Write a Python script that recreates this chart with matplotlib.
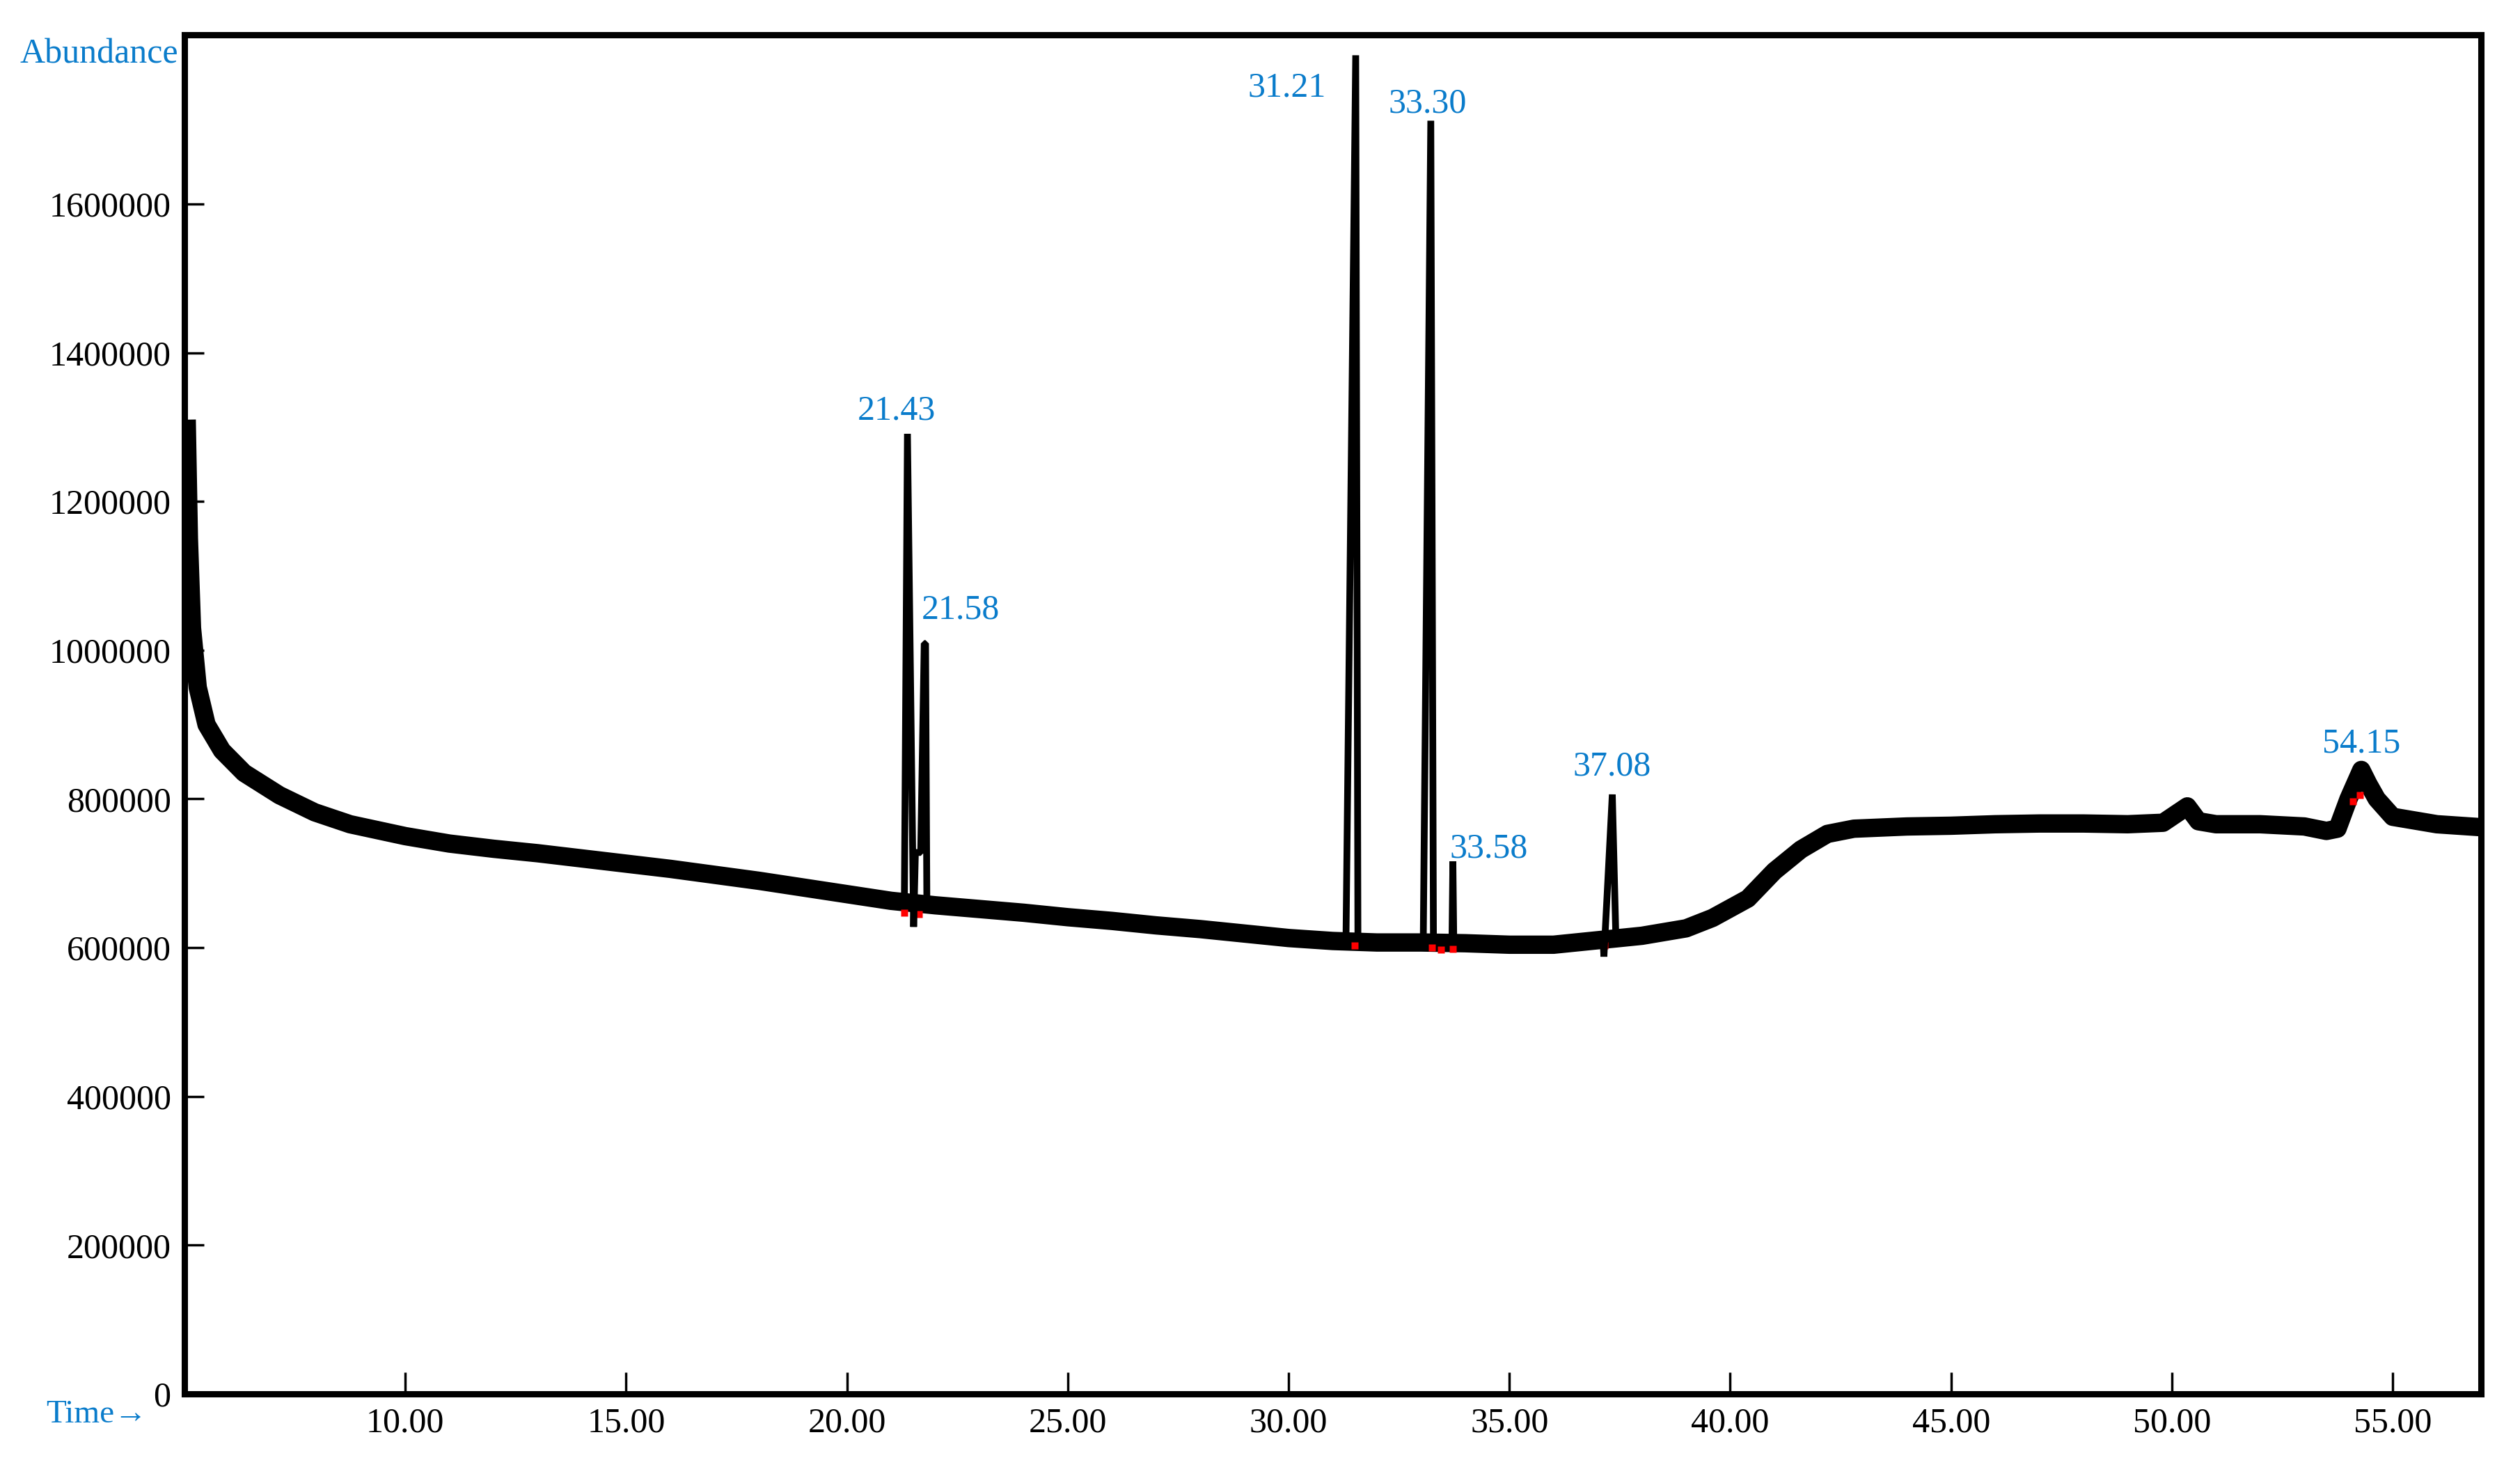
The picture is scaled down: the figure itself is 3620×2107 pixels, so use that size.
import numpy as np
import matplotlib.pyplot as plt

# ---- data ----
baseline_t = [5.05, 5.10, 5.17, 5.30, 5.50, 5.85, 6.35, 7.15, 7.95, 8.75,
              10.0, 11.0, 12.0, 13.0, 14.0, 15.0, 16.0, 17.0, 18.0, 19.0,
              20.0, 21.0, 22.0, 23.0, 24.0, 25.0, 26.0, 27.0, 28.0, 29.0,
              30.0, 31.0, 32.0, 33.0, 34.0, 35.0, 36.0, 37.0, 38.0, 39.0,
              39.6, 40.4, 41.0, 41.6, 42.2, 42.8, 44.0, 45.0, 46.0, 47.0,
              48.0, 49.0, 49.8, 50.35, 50.6, 51.0, 52.0, 53.0, 53.5, 53.75,
              54.0, 54.29, 54.45, 54.64, 55.0, 56.0, 57.0]
baseline_y = [1310000, 1150000, 1030000, 950000, 900000, 865000, 835000, 805000, 782000, 766000,
              750000, 740000, 733000, 727000, 720000, 713000, 706000, 698000, 690000, 681000,
              672000, 663000, 657000, 652000, 647000, 641000, 636000, 630000, 625000, 619000,
              613000, 609000, 607000, 607000, 606000, 604000, 604000, 610000, 616000, 626000,
              640000, 666000, 703000, 732000, 753000, 760000, 763000, 764000, 766000, 767000,
              767000, 766000, 768000, 790000, 770000, 766000, 766000, 763000, 757000, 760000,
              800000, 839000, 820000, 800000, 776000, 766000, 762000]

# sharp peaks (time, abundance) polylines
peak_t = [[21.30, 21.37, 21.51, 21.55, 21.67, 21.75, 21.78, 21.81],
          [31.30, 31.52, 31.57],
          [33.05, 33.22, 33.28],
          [33.70, 33.72, 33.74],
          [37.12, 37.14, 37.33, 37.41]]
peak_y = [[660000, 1291000, 628000, 728000, 728000, 1009000, 1009000, 656000],
          [612000, 1800000, 612000],
          [610000, 1712000, 610000],
          [610000, 716000, 610000],
          [612000, 588000, 806000, 615000]]

# integration marks (red)
mark_t = [21.30, 21.63, 31.50, 33.25, 33.45, 33.72, 37.15, 54.10, 54.25]
mark_y = [647000, 645000, 603000, 600000, 597000, 598000, 603000, 797000, 805000]

# retention time labels
label_text = ['21.43', '21.58', '31.21', '33.30', '33.58', '37.08', '54.15']
label_t = [21.12, 22.57, 29.97, 33.14, 34.54, 37.33, 54.29]
label_y = [1322000, 1054000, 1756000, 1735000, 733000, 843000, 874000]

x_ticks = [10, 15, 20, 25, 30, 35, 40, 45, 50, 55]
y_ticks = [0, 200000, 400000, 600000, 800000, 1000000, 1200000, 1400000, 1600000]

BLUE = '#0a7ccb'
SERIF = ['Liberation Serif', 'DejaVu Serif']
plt.rcParams['font.family'] = SERIF

W, H = 3620, 2107
fig = plt.figure(figsize=(W / 100, H / 100), dpi=100)
left, right, bottom, top = 265, 3564, 2002, 50
ax = fig.add_axes([left / W, 1 - bottom / H, (right - left) / W, (bottom - top) / H])

# baseline band
ax.plot(baseline_t, baseline_y, color='black', lw=19,
        solid_joinstyle='round', solid_capstyle='butt', zorder=2)
# integration marks
ax.plot(mark_t, mark_y, 's', color='red', ms=7, mec='none', zorder=3)
# peaks
for pt, py in zip(peak_t, peak_y):
    ax.plot(pt, py, color='black', lw=7, solid_joinstyle='bevel',
            solid_capstyle='butt', zorder=4)

for txt, tx, ty in zip(label_text, label_t, label_y):
    ax.text(tx, ty, txt, color=BLUE, fontsize=36, ha='center', va='center',
            family=SERIF, zorder=5)

ax.set_xlim(5.0, 57.0)
ax.set_ylim(0, 1827500)
ax.set_xticks(x_ticks)
ax.set_xticklabels([f'{v:.2f}' for v in x_ticks])
ax.set_yticks(y_ticks)
ax.set_yticklabels([str(v) for v in y_ticks])
ax.tick_params(axis='both', direction='in', width=2.5, labelsize=36,
               colors='black')
ax.tick_params(axis='x', length=22, pad=14)
ax.tick_params(axis='y', length=20, pad=14)
for s in ax.spines.values():
    s.set_linewidth(6.5)
    s.set_color('black')

fig.text(256 / W, 1 - 78 / H, 'Abundance', color=BLUE, fontsize=36,
         ha='right', va='center', family=SERIF)
fig.text(212 / W, 1 - 2032 / H, 'Time\u2192', color=BLUE, fontsize=34,
         ha='right', va='center', family=SERIF)

fig.savefig('out.png', dpi=100, facecolor='white')
